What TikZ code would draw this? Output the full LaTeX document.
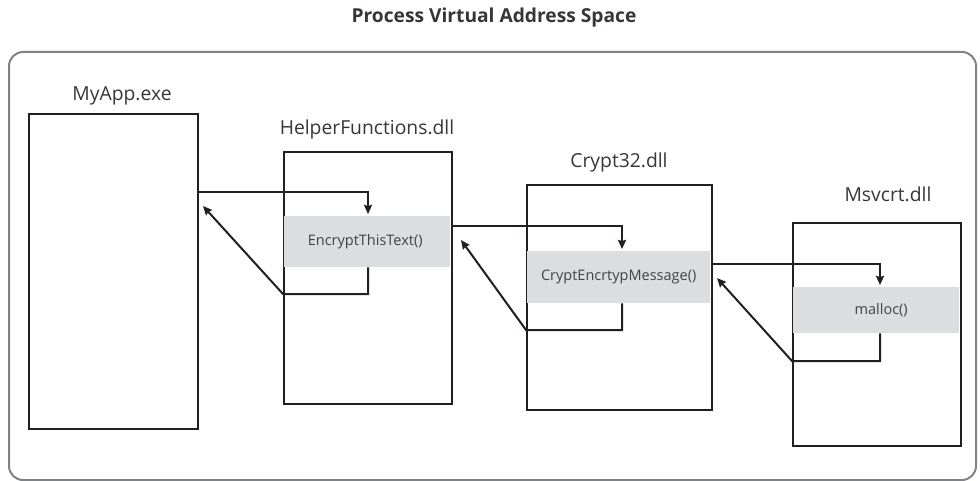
\documentclass[tikz,border=0pt]{standalone}
\usepackage{fontspec}
\setmainfont{Open Sans}
\usetikzlibrary{arrows.meta,calc}
\definecolor{ink}{HTML}{231F20}
\definecolor{band}{HTML}{DCDDDE}
\definecolor{frame}{HTML}{808285}
\begin{document}
\begin{tikzpicture}[x=1pt,y=-1pt,
  modbox/.style={draw=ink,line width=2pt,anchor=north west,inner sep=0pt},
  fnband/.style={fill=band,anchor=north west,inner sep=0pt,font=\fontsize{14.5}{17}\selectfont,text=ink!85},
  modlabel/.style={font=\fontsize{19.3}{22}\selectfont,text=ink!90},
  arr/.style={draw=ink,line width=2pt,-{Stealth[length=9pt,width=8pt,inset=1pt]}}]
\useasboundingbox (0,0) rectangle (980,481);
\node[font=\bfseries\fontsize{19.2}{22}\selectfont,text=ink!90] (title) at (494,18) {Process Virtual Address Space};
\node[draw=frame,line width=2pt,rounded corners=14pt,anchor=north west,minimum width=967,minimum height=428,inner sep=0pt] (vas) at (8,51) {};
% modules
\node[modbox,minimum width=169,minimum height=315] (myapp) at (28,113) {};
\node[modbox,minimum width=168,minimum height=252] (helper) at (283,151) {};
\node[modbox,minimum width=185,minimum height=225] (crypt) at (526,184) {};
\node[modbox,minimum width=168,minimum height=223] (msvcrt) at (792,222) {};
% bands
\node[fnband,minimum width=166,minimum height=51] (enc) at (284,216) {EncryptThisText()\hspace*{4pt}};
\node[fnband,minimum width=183,minimum height=52] (cem) at (527,251) {CryptEncrtypMessage()};
\node[fnband,minimum width=166,minimum height=46] (mal) at (793,287) {\hspace*{10pt}malloc()};
% labels
\node[modlabel] (l1) at (122,96) {MyApp.exe};
\node[modlabel] (l2) at (367,129) {HelperFunctions.dll};
\node[modlabel] (l3) at (619,162) {Crypt32.dll};
\node[modlabel] (l4) at (888,194) {Msvcrt.dll};
% call/return coordinates
\coordinate (x1) at (368,0);
\coordinate (x2) at (622,0);
\coordinate (x3) at (880,0);
\coordinate (y1) at (0,192);
\coordinate (y2) at (0,226);
\coordinate (y3) at (0,264);
\coordinate (r1) at (0,294);
\coordinate (r2) at (0,330);
\coordinate (r3) at (0,361);
\coordinate (t1) at (203,206);
\coordinate (t2) at (461,240);
\coordinate (t3) at (717,278);
% calls
\draw[arr,shorten >=2pt] (myapp.east |- y1) -| (enc.north -| x1);
\draw[arr,shorten >=2pt] (helper.east |- y2) -| (cem.north -| x2);
\draw[arr,shorten >=2pt] (crypt.east |- y3) -| (mal.north -| x3);
% returns
\draw[arr] (enc.south -| x1) |- (helper.west |- r1) -- (t1);
\draw[arr] (cem.south -| x2) |- (crypt.west |- r2) -- (t2);
\draw[arr] (mal.south -| x3) |- (msvcrt.west |- r3) -- (t3);
\end{tikzpicture}
\end{document}
